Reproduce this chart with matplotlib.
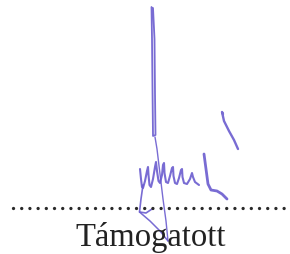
import matplotlib
matplotlib.use("Agg")
import matplotlib.pyplot as plt

# caption under the dotted line
label = "Támogatott"

# signature strokes, (x, y) in picture pixels, y downwards
stem = [(151.5, 8), (152, 40), (152.5, 90), (153, 137), (155.5, 136), (155, 95),
        (154.5, 40), (153, 9)]
tail = [(155, 138), (157, 150), (160, 175), (163, 200), (166, 222), (168, 242)]
waves = [(140, 170), (141, 180), (142, 188), (143, 189), (145, 182), (147, 172),
         (148, 168), (148.5, 176), (149.5, 186), (151, 188), (153, 180), (155, 168),
         (156, 163), (157, 172), (158.5, 182), (160, 184), (162, 176), (163, 166),
         (164, 164), (164.5, 174), (166, 183), (168, 184), (170, 177), (172, 169),
         (173, 168), (173.5, 177), (175, 184), (177, 185), (179, 179), (181, 171),
         (182, 170), (182.5, 178), (184, 184), (187, 185), (190, 180), (192, 174),
         (193, 178), (195, 183), (199, 186)]
hook = [(143, 186), (141, 200), (139.5, 213), (146, 214), (152, 210)]
arrow = [(139.5, 213), (150, 222), (160, 232), (168, 242)]
ell = [(204, 155), (206, 170), (208, 185), (211, 191), (217, 192), (222, 195),
       (227, 200)]
flick = [(223, 115), (222, 113), (224, 122), (229, 132), (234, 141), (238, 150)]

dot_y = 209
dot_x0, dot_x1 = 13, 286

fig = plt.figure(figsize=(2.9, 2.55), dpi=100)
ax = fig.add_axes([0, 0, 1, 1])
ax.set_xlim(0, 290)
ax.set_ylim(255, 0)
ax.axis("off")

ink = "#6a5ccf"
for stroke, lw in [(stem, 1.3), (tail, 1.0), (waves, 1.5), (hook, 1.2),
                   (arrow, 1.1), (ell, 2.0), (flick, 1.7)]:
    xs = [p[0] for p in stroke]
    ys = [p[1] for p in stroke]
    ax.plot(xs, ys, color=ink, lw=lw, alpha=0.9, solid_capstyle="round",
            solid_joinstyle="round")

ax.plot([dot_x0, dot_x1], [dot_y, dot_y], color="#2a2a2a", lw=2.4,
        dashes=(0.01, 2.45), dash_capstyle="round")

ax.text(151, 246, label, ha="center", va="baseline", color="#222222",
        fontsize=23.5, family="Liberation Serif")

fig.savefig("out.png", dpi=100)
